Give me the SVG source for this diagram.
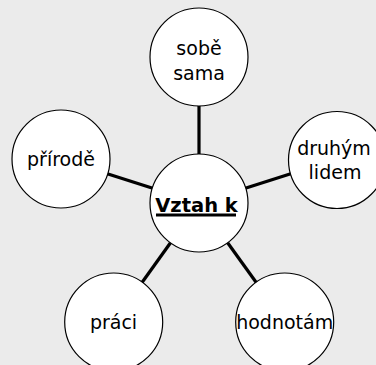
<svg xmlns="http://www.w3.org/2000/svg" width="376" height="365" viewBox="0 0 376 365">
<style>
.node circle{fill:#fff;stroke:#000;stroke-width:1.2}
.node text{font-family:"DejaVu Sans",Verdana,sans-serif;font-size:19px;fill:#000;text-anchor:middle}
.conn line{stroke:#000;stroke-width:3.2}
.hub text{font-weight:bold;font-size:19.5px}
.underline{stroke:#000;stroke-width:3}
</style>
<rect width="376" height="365" fill="#ebebeb"/>
<g id="connectors" class="conn">
<line x1="199" y1="203" x2="199" y2="57"/>
<line x1="199" y1="203" x2="61" y2="159"/>
<line x1="199" y1="203" x2="337" y2="159"/>
<line x1="199" y1="203" x2="113.7" y2="322"/>
<line x1="199" y1="203" x2="284.7" y2="322"/>
</g>
<g id="node-sobe-sama" class="node">
<circle cx="199" cy="57" r="49"/>
<text x="199" y="55">sobě</text>
<text x="199" y="80">sama</text>
</g>
<g id="node-prirode" class="node">
<circle cx="61" cy="159" r="49"/>
<text x="61" y="165.5">přírodě</text>
</g>
<g id="node-druhym-lidem" class="node">
<circle cx="337" cy="160" r="48.5"/>
<text x="334" y="155">druhým</text>
<text x="335" y="179">lidem</text>
</g>
<g id="node-vztah-k" class="node hub">
<circle cx="199" cy="203" r="49"/>
<text x="196.5" y="211.5">Vztah k</text>
<line class="underline" x1="156" y1="215" x2="236" y2="215"/>
</g>
<g id="node-praci" class="node">
<circle cx="113.7" cy="322" r="49"/>
<text x="113.5" y="329">práci</text>
</g>
<g id="node-hodnotam" class="node">
<circle cx="284.7" cy="322" r="49"/>
<text x="284.7" y="329">hodnotám</text>
</g>
</svg>
